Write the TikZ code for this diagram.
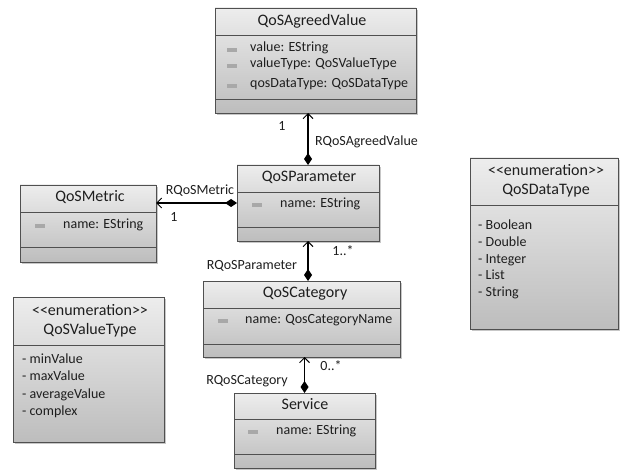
\documentclass[tikz,border=0pt]{standalone}
\usepackage{fontspec}
\setmainfont{Carlito}[Ligatures=TeXOff]
\usetikzlibrary{arrows.meta,shadows,calc}

\definecolor{boxline}{HTML}{505050}
\definecolor{boxtop}{HTML}{EDEDED}
\definecolor{boxbottom}{HTML}{BDBDBD}
\definecolor{txt}{HTML}{1E1E1E}
\definecolor{markgray}{HTML}{A8A8A8}

\tikzset{
  classbox/.style={draw=boxline, line width=0.9pt, inner sep=0pt, outer sep=0pt,
    anchor=north west, top color=boxtop, bottom color=boxbottom,
    drop shadow={shadow xshift=1.6pt, shadow yshift=-1.6pt, opacity=0.22, fill=black}},
  sepline/.style={draw=boxline, line width=0.9pt},
  titletext/.style={font=\fontsize{16}{19}\selectfont, text=txt, inner sep=0pt, anchor=mid},
  attrtext/.style={font=\fontsize{14}{16}\selectfont, text=txt, inner sep=0pt, anchor=mid west},
  itemtext/.style={font=\fontsize{14}{16}\selectfont, text=txt, inner sep=0pt, anchor=mid west},
  roletext/.style={font=\fontsize{14}{16}\selectfont, text=txt, inner sep=0pt, anchor=mid},
  attrmark/.style={fill=markgray, draw=none, minimum width=10pt, minimum height=3.2pt, inner sep=0pt},
  comp/.style={draw=black, line width=1.1pt,
    {Diamond[length=12pt,width=8pt]}-{Straight Barb[length=5pt,width=10pt,line width=1pt]}},
}

\begin{document}
\begin{tikzpicture}[x=1pt, y=-1pt]
\useasboundingbox (0,0) rectangle (620,470);

% ---------- QoSAgreedValue ----------
\node[classbox, minimum width=201pt, minimum height=105pt] (agreed) at (215,8) {};
\draw[sepline] ($(agreed.north west)+(0,27)$) -- ($(agreed.north east)+(0,27)$);
\draw[sepline] ($(agreed.north west)+(0,91)$) -- ($(agreed.north east)+(0,91)$);
\node[titletext] (agreedT) at (312,23) {QoSAgreedValue};
\node[attrmark] (agreedM1) at (232,50) {};
\node[attrmark] (agreedM2) at (232,66) {};
\node[attrmark] (agreedM3) at (232,86) {};
\node[attrtext] (agreedA1) at (250,49) {value: EString};
\node[attrtext] (agreedA2) at (250,65) {valueType: QoSValueType};
\node[attrtext] (agreedA3) at (250,85) {qosDataType: QoSDataType};

% ---------- QoSMetric ----------
\node[classbox, minimum width=136pt, minimum height=77pt] (metric) at (20,185) {};
\draw[sepline] ($(metric.north west)+(0,27)$) -- ($(metric.north east)+(0,27)$);
\draw[sepline] ($(metric.north west)+(0,62)$) -- ($(metric.north east)+(0,62)$);
\node[titletext] (metricT) at (90,199) {QoSMetric};
\node[attrmark] (metricM1) at (40,226) {};
\node[attrtext] (metricA1) at (63,226) {name: EString};

% ---------- QoSParameter ----------
\node[classbox, minimum width=142pt, minimum height=76pt] (param) at (237,165) {};
\draw[sepline] ($(param.north west)+(0,27)$) -- ($(param.north east)+(0,27)$);
\draw[sepline] ($(param.north west)+(0,62)$) -- ($(param.north east)+(0,62)$);
\node[titletext] (paramT) at (309,179) {QoSParameter};
\node[attrmark] (paramM1) at (257,205) {};
\node[attrtext] (paramA1) at (280,205) {name: EString};

% ---------- QoSCategory ----------
\node[classbox, minimum width=197pt, minimum height=76pt] (cat) at (203,281) {};
\draw[sepline] ($(cat.north west)+(0,27)$) -- ($(cat.north east)+(0,27)$);
\draw[sepline] ($(cat.north west)+(0,63)$) -- ($(cat.north east)+(0,63)$);
\node[titletext] (catT) at (305,295) {QoSCategory};
\node[attrmark] (catM1) at (223,321) {};
\node[attrtext] (catA1) at (245,321) {name: QosCategoryName};

% ---------- Service ----------
\node[classbox, minimum width=141pt, minimum height=75pt] (svc) at (234,393) {};
\draw[sepline] ($(svc.north west)+(0,26)$) -- ($(svc.north east)+(0,26)$);
\draw[sepline] ($(svc.north west)+(0,61)$) -- ($(svc.north east)+(0,61)$);
\node[titletext] (svcT) at (305,407) {Service};
\node[attrmark] (svcM1) at (253,432) {};
\node[attrtext] (svcA1) at (276,432) {name: EString};

% ---------- QoSDataType (enumeration) ----------
\node[classbox, minimum width=148pt, minimum height=171pt] (dtype) at (470,158) {};
\draw[sepline] ($(dtype.north west)+(0,47)$) -- ($(dtype.north east)+(0,47)$);
\node[titletext] (dtypeS) at (546,173) {<<enumeration>>};
\node[titletext] (dtypeT) at (546,192) {QoSDataType};
\node[itemtext] (dtype1) at (478,227) {- Boolean};
\node[itemtext] (dtype2) at (478,244) {- Double};
\node[itemtext] (dtype3) at (478,261) {- Integer};
\node[itemtext] (dtype4) at (478,277) {- List};
\node[itemtext] (dtype5) at (478,294) {- String};

% ---------- QoSValueType (enumeration) ----------
\node[classbox, minimum width=151pt, minimum height=145pt] (vtype) at (13,297) {};
\draw[sepline] ($(vtype.north west)+(0,48)$) -- ($(vtype.north east)+(0,48)$);
\node[titletext] (vtypeS) at (90,313) {<<enumeration>>};
\node[titletext] (vtypeT) at (90,332) {QoSValueType};
\node[itemtext] (vtype1) at (22,361) {- minValue};
\node[itemtext] (vtype2) at (22,378) {- maxValue};
\node[itemtext] (vtype3) at (22,396) {- averageValue};
\node[itemtext] (vtype4) at (22,413) {- complex};

% ---------- composition associations ----------
\draw[comp] (param.north) -- (param.north |- agreed.south);
\draw[comp] (param.west) -- (param.west -| metric.east);
\draw[comp] (param.south |- cat.north) -- (param.south);
\draw[comp] (svc.north) -- (svc.north |- cat.south);

% ---------- role names and multiplicities ----------
\node[roletext] (agreedMul) at (282,128) {1};
\node[roletext, anchor=mid west] (agreedRole) at (315,143) {RQoSAgreedValue};
\node[roletext] (metricRole) at (200,192) {RQoSMetric};
\node[roletext] (metricMul) at (174,219) {1};
\node[roletext] (paramMul) at (343,253) {1..*};
\node[roletext] (paramRole) at (252,267) {RQoSParameter};
\node[roletext] (catMul) at (331,368) {0..*};
\node[roletext] (catRole) at (247,382) {RQoSCategory};
\end{tikzpicture}
\end{document}
